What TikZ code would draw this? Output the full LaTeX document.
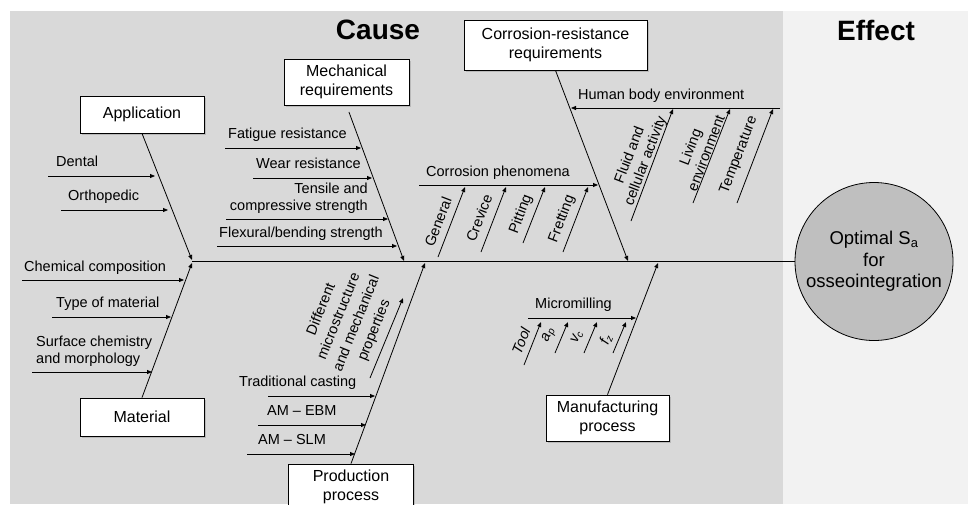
\documentclass[tikz,border=0pt]{standalone}
\usepackage{fontspec}
\setmainfont{Liberation Sans}
\usepackage{tikz}
\usetikzlibrary{arrows.meta,shadows}
\definecolor{causegray}{HTML}{D9D9D9}
\definecolor{effectgray}{HTML}{F2F2F2}
\definecolor{circlegray}{HTML}{BFBFBF}

\begin{document}
\begin{tikzpicture}[x=1pt,y=-1pt,
  bone/.style={draw=black,line width=0.8pt},
  arr/.style={bone,-{Triangle[length=5pt,width=4pt]}},
  catbox/.style={draw=black,fill=white,line width=0.8pt,align=center,inner sep=0pt,
    font=\fontsize{16}{19}\selectfont,
    drop shadow={opacity=0.35,shadow xshift=1.5pt,shadow yshift=-1.5pt}},
  lbl/.style={inner sep=0pt,text depth=0pt,anchor=south west,font=\fontsize{14.5}{17}\selectfont},
  rlbl/.style={inner sep=0pt,rotate=68,align=center,font=\fontsize{14.5}{17}\selectfont},
  title/.style={font=\bfseries\fontsize{28}{32}\selectfont}]
% Drawing panels
\clip (0,0) rectangle (968,504);
\fill[white] (0,0) rectangle (968,504);
\fill[causegray] (10,11) rectangle (783,504);
\fill[effectgray] (783,11) rectangle (968,504);
\node[title] (cause) at (378,30) {Cause};
\node[title] (effect) at (876,30) {Effect};
% Effect and spine
\node[circle,draw=black,fill=circlegray,line width=0.8pt,minimum size=158pt,inner sep=0pt,
  align=center,font=\fontsize{18.5}{21.5}\selectfont] (sa) at (874,261.5)
  {Optimal S\textsubscript{a}\\for\\osseointegration};
\coordinate (head) at (192,261.5);
\draw[bone,line width=1.1pt] (head) -- (sa.west);
% Category boxes
\node[catbox,minimum width=124pt,minimum height=37pt] (app) at (142,114.5) {Application};
\node[catbox,minimum width=124pt,minimum height=38pt] (mat) at (142,417) {Material};
\node[catbox,minimum width=125pt,minimum height=46pt] (mech) at (346.5,82) {Mechanical\\requirements};
\node[catbox,minimum width=125pt,minimum height=46pt] (prod) at (351,487) {Production\\process};
\node[catbox,minimum width=183pt,minimum height=50pt] (cor) at (555.5,45) {Corrosion-resistance\\requirements};
\node[catbox,minimum width=123pt,minimum height=46pt] (mfg) at (607.5,418) {Manufacturing\\process};
% Main bones
\coordinate (app-t) at (192,260);
\coordinate (mat-t) at (192,263);
\coordinate (mech-t) at (404,261);
\coordinate (prod-t) at (425,263);
\coordinate (cor-t) at (628,261);
\coordinate (mfg-t) at (658,263);
\draw[arr] (app.south) -- (app-t);
\draw[arr] (mat.north) -- (mat-t);
\draw[arr,shorten <=7pt] (mech.south) -- (mech-t);
\draw[arr] (prod.north) -- (prod-t);
\draw[arr] (cor.south) -- (cor-t);
\draw[arr] (mfg.north) -- (mfg-t);
% Application: Dental, Orthopedic
\coordinate (dental-s) at (48,176); \coordinate (dental-e) at (155,176);
\node[lbl] (dental) at (56,167) {Dental};
\draw[arr] (dental-s) -- (dental-e);
\coordinate (ortho-s) at (61,210); \coordinate (ortho-e) at (168,210);
\node[lbl] (ortho) at (68,201) {Orthopedic};
\draw[arr] (ortho-s) -- (ortho-e);
% Material: composition, type, surface
\coordinate (chem-s) at (22,280); \coordinate (chem-e) at (184,280);
\node[lbl] (chem) at (24,271.5) {Chemical composition};
\draw[arr] (chem-s) -- (chem-e);
\coordinate (type-s) at (52,317); \coordinate (type-e) at (171,317);
\node[lbl] (type) at (56,308) {Type of material};
\draw[arr] (type-s) -- (type-e);
\coordinate (surf-s) at (32,372); \coordinate (surf-e) at (152,372);
\node[lbl,align=left] (surf) at (36,364) {Surface chemistry\\and morphology};
\draw[arr] (surf-s) -- (surf-e);
% Mechanical requirements
\coordinate (fat-s) at (225,148); \coordinate (fat-e) at (361,148);
\node[lbl] (fat) at (228,138.5) {Fatigue resistance};
\draw[arr] (fat-s) -- (fat-e);
\coordinate (wear-s) at (253,178); \coordinate (wear-e) at (372,178);
\node[lbl] (wear) at (256,169) {Wear resistance};
\draw[arr] (wear-s) -- (wear-e);
\coordinate (tens-s) at (226,219); \coordinate (tens-e) at (388,219);
\node[lbl,anchor=south east,align=right] (tens) at (368,210.5) {Tensile and\\compressive strength};
\draw[arr] (tens-s) -- (tens-e);
\coordinate (flex-s) at (217,246); \coordinate (flex-e) at (397,246);
\node[lbl] (flex) at (219,237.5) {Flexural/bending strength};
\draw[arr] (flex-s) -- (flex-e);
% Production process
\coordinate (cast-s) at (268,396); \coordinate (cast-e) at (375,396);
\node[lbl] (cast) at (239,387) {Traditional casting};
\draw[arr] (cast-s) -- (cast-e);
\coordinate (ebm-s) at (258,425); \coordinate (ebm-e) at (366,425);
\node[lbl] (ebm) at (267,416) {AM -- EBM};
\draw[arr] (ebm-s) -- (ebm-e);
\coordinate (slm-s) at (247,454); \coordinate (slm-e) at (355,454);
\node[lbl] (slm) at (258,445) {AM -- SLM};
\draw[arr] (slm-s) -- (slm-e);
\coordinate (micro-s) at (370,378); \coordinate (micro-e) at (403,298);
\node[rlbl,font=\fontsize{14.5}{19}\selectfont] (micro) at (348,320) {Different\\microstructure\\and mechanical\\properties};
\draw[arr] (micro-s) -- (micro-e);
% Corrosion phenomena
\coordinate (phen-s) at (419,185); \coordinate (phen-e) at (598,185);
\node[lbl] (phen) at (426,176.5) {Corrosion phenomena};
\draw[arr] (phen-s) -- (phen-e);
\coordinate (gen-s) at (438,257); \coordinate (gen-e) at (465,187);
\node[rlbl,rotate=1] (gen) at (438,222) {General};
\draw[arr] (gen-s) -- (gen-e);
\coordinate (crev-s) at (481,252); \coordinate (crev-e) at (506,187);
\node[rlbl,rotate=1] (crev) at (479,218) {Crevice};
\draw[arr] (crev-s) -- (crev-e);
\coordinate (pit-s) at (523,243); \coordinate (pit-e) at (545,187);
\node[rlbl,rotate=1] (pit) at (521,214) {Pitting};
\draw[arr] (pit-s) -- (pit-e);
\coordinate (fret-s) at (563,252); \coordinate (fret-e) at (588,187);
\node[rlbl,rotate=1] (fret) at (562,219) {Fretting};
\draw[arr] (fret-s) -- (fret-e);
% Human body environment
\coordinate (body-s) at (780,108); \coordinate (body-e) at (571,108);
\node[lbl] (body) at (578,99.5) {Human body environment};
\draw[arr] (body-s) -- (body-e);
\coordinate (fluid-s) at (631,221); \coordinate (fluid-e) at (673,109);
\node[rlbl,rotate=1] (fluid) at (638,158) {Fluid and\\cellular activity};
\draw[arr] (fluid-s) -- (fluid-e);
\coordinate (liv-s) at (693,203); \coordinate (liv-e) at (730,109);
\node[rlbl,rotate=1] (liv) at (698,150) {Living\\environment};
\draw[arr] (liv-s) -- (liv-e);
\coordinate (temp-s) at (737,203); \coordinate (temp-e) at (773,109);
\node[rlbl,rotate=1] (temp) at (739,155) {Temperature};
\draw[arr] (temp-s) -- (temp-e);
% Micromilling
\coordinate (mill-s) at (528,318); \coordinate (mill-e) at (636,318);
\node[lbl] (mill) at (535,309) {Micromilling};
\draw[arr] (mill-s) -- (mill-e);
\coordinate (tool-s) at (524,365); \coordinate (tool-e) at (541,322);
\node[rlbl,font=\fontsize{14.5}{17}\selectfont\itshape] (tool) at (521,341) {Tool};
\draw[arr] (tool-s) -- (tool-e);
\coordinate (ap-s) at (555,353); \coordinate (ap-e) at (568,322);
\node[rlbl,font=\fontsize{14.5}{17}\selectfont\itshape] (ap) at (549,335) {a\textsubscript{p}};
\draw[arr] (ap-s) -- (ap-e);
\coordinate (vc-s) at (584,353); \coordinate (vc-e) at (597,322);
\node[rlbl,font=\fontsize{14.5}{17}\selectfont\itshape] (vc) at (577,337) {v\textsubscript{c}};
\draw[arr] (vc-s) -- (vc-e);
\coordinate (fz-s) at (613,353); \coordinate (fz-e) at (626,322);
\node[rlbl,font=\fontsize{14.5}{17}\selectfont\itshape] (fz) at (606,339) {f\textsubscript{z}};
\draw[arr] (fz-s) -- (fz-e);
\end{tikzpicture}
\end{document}
